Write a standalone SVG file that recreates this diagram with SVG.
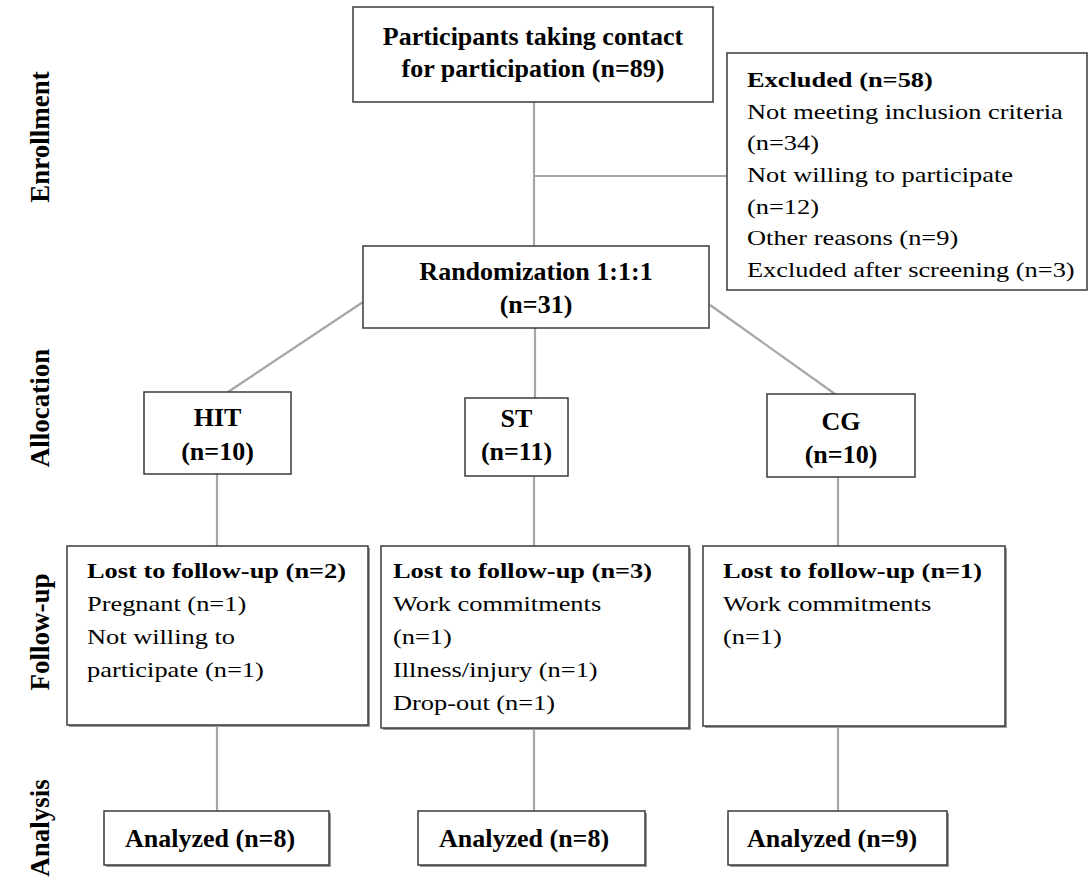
<svg xmlns="http://www.w3.org/2000/svg" width="1090" height="880" viewBox="0 0 1090 880">
<style>
.box{fill:#fff;stroke:#3a3a3a;stroke-width:1.5}
.sh{fill:#9a9a9a}
.b{font-family:"Liberation Serif","Times New Roman",serif;font-weight:bold;font-size:26px;fill:#000}
.s{font-family:"Liberation Serif","Times New Roman",serif;font-size:22px;fill:#000}
.sb{font-family:"Liberation Serif","Times New Roman",serif;font-weight:bold;font-size:22px;fill:#000}
.lab{font-family:"Liberation Serif","Times New Roman",serif;font-weight:bold;font-size:27px;fill:#000}
.c{fill:none;stroke:#a6a6a6;stroke-width:2.2}
</style>
<rect width="1090" height="880" fill="#fff"/>
<g id="phase-labels">
<text class="lab" text-anchor="middle" transform="translate(49,137) rotate(-90)">Enrollment</text>
<text class="lab" text-anchor="middle" transform="translate(49,408) rotate(-90)">Allocation</text>
<text class="lab" text-anchor="middle" transform="translate(49,632) rotate(-90)">Follow-up</text>
<text class="lab" text-anchor="middle" transform="translate(49,828) rotate(-90)">Analysis</text>
</g>
<g id="connectors">
<line class="c" x1="534" y1="102" x2="534" y2="246"/>
<line class="c" x1="534" y1="176" x2="727" y2="176"/>
<line class="c" x1="535" y1="328" x2="535" y2="398"/>
<line class="c" x1="363" y1="302" x2="228" y2="392"/>
<line class="c" x1="710" y1="305" x2="835" y2="394"/>
<line class="c" x1="217" y1="474" x2="217" y2="546"/>
<line class="c" x1="534" y1="476" x2="534" y2="546"/>
<line class="c" x1="838" y1="477" x2="838" y2="546"/>
<line class="c" x1="217" y1="725" x2="217" y2="811"/>
<line class="c" x1="534" y1="728" x2="534" y2="811"/>
<line class="c" x1="838" y1="726" x2="838" y2="811"/>
</g>
<g id="n-contact">
<rect class="box" x="353" y="7" width="360" height="95"/>
<text class="b" text-anchor="middle" x="533" y="45">Participants taking contact</text>
<text class="b" text-anchor="middle" x="533" y="77">for participation (n=89)</text>
</g>
<g id="n-excluded">
<rect class="box" x="727" y="53" width="360" height="237"/>
<text class="sb" transform="translate(747,87) scale(1.2,1)">Excluded (n=58)</text>
<text class="s" transform="translate(747,119) scale(1.2,1)">Not meeting inclusion criteria</text>
<text class="s" transform="translate(747,150) scale(1.2,1)">(n=34)</text>
<text class="s" transform="translate(747,182) scale(1.2,1)">Not willing to participate</text>
<text class="s" transform="translate(747,214) scale(1.2,1)">(n=12)</text>
<text class="s" transform="translate(747,245) scale(1.2,1)">Other reasons (n=9)</text>
<text class="s" transform="translate(747,277) scale(1.2,1)">Excluded after screening (n=3)</text>
</g>
<g id="n-random">
<rect class="box" x="363" y="246" width="346" height="82"/>
<text class="b" text-anchor="middle" x="536" y="280">Randomization 1:1:1</text>
<text class="b" text-anchor="middle" x="536" y="313">(n=31)</text>
</g>
<g id="n-hit">
<rect class="box" x="144" y="392" width="147" height="82"/>
<text class="b" text-anchor="middle" x="217.5" y="426">HIT</text>
<text class="b" text-anchor="middle" x="217.5" y="460">(n=10)</text>
</g>
<g id="n-st">
<rect class="box" x="465" y="398" width="103" height="78"/>
<text class="b" text-anchor="middle" x="516.5" y="427">ST</text>
<text class="b" text-anchor="middle" x="516.5" y="460">(n=11)</text>
</g>
<g id="n-cg">
<rect class="box" x="767" y="394" width="148" height="83"/>
<text class="b" text-anchor="middle" x="841" y="430">CG</text>
<text class="b" text-anchor="middle" x="841" y="463">(n=10)</text>
</g>
<g id="n-lost-hit">
<rect class="sh" x="69" y="548" width="301" height="179"/>
<rect class="box" x="67" y="546" width="301" height="179"/>
<text class="sb" transform="translate(87,578) scale(1.2,1)">Lost to follow-up (n=2)</text>
<text class="s" transform="translate(87,611) scale(1.2,1)">Pregnant (n=1)</text>
<text class="s" transform="translate(87,644) scale(1.2,1)">Not willing to</text>
<text class="s" transform="translate(87,677) scale(1.2,1)">participate (n=1)</text>
</g>
<g id="n-lost-st">
<rect class="sh" x="383" y="548" width="308" height="182"/>
<rect class="box" x="381" y="546" width="308" height="182"/>
<text class="sb" transform="translate(393,578) scale(1.2,1)">Lost to follow-up (n=3)</text>
<text class="s" transform="translate(393,611) scale(1.2,1)">Work commitments</text>
<text class="s" transform="translate(393,644) scale(1.2,1)">(n=1)</text>
<text class="s" transform="translate(393,677) scale(1.2,1)">Illness/injury (n=1)</text>
<text class="s" transform="translate(393,710) scale(1.2,1)">Drop-out (n=1)</text>
</g>
<g id="n-lost-cg">
<rect class="sh" x="705" y="548" width="302" height="180"/>
<rect class="box" x="703" y="546" width="302" height="180"/>
<text class="sb" transform="translate(723,578) scale(1.2,1)">Lost to follow-up (n=1)</text>
<text class="s" transform="translate(723,611) scale(1.2,1)">Work commitments</text>
<text class="s" transform="translate(723,644) scale(1.2,1)">(n=1)</text>
</g>
<g id="n-an-hit">
<rect class="sh" x="106" y="813" width="225" height="54"/>
<rect class="box" x="104" y="811" width="225" height="54"/>
<text class="b" x="125" y="847">Analyzed (n=8)</text>
</g>
<g id="n-an-st">
<rect class="sh" x="420" y="813" width="227" height="54"/>
<rect class="box" x="418" y="811" width="227" height="54"/>
<text class="b" x="439" y="847">Analyzed (n=8)</text>
</g>
<g id="n-an-cg">
<rect class="sh" x="730" y="813" width="219" height="54"/>
<rect class="box" x="728" y="811" width="219" height="54"/>
<text class="b" x="747" y="847">Analyzed (n=9)</text>
</g>
</svg>
